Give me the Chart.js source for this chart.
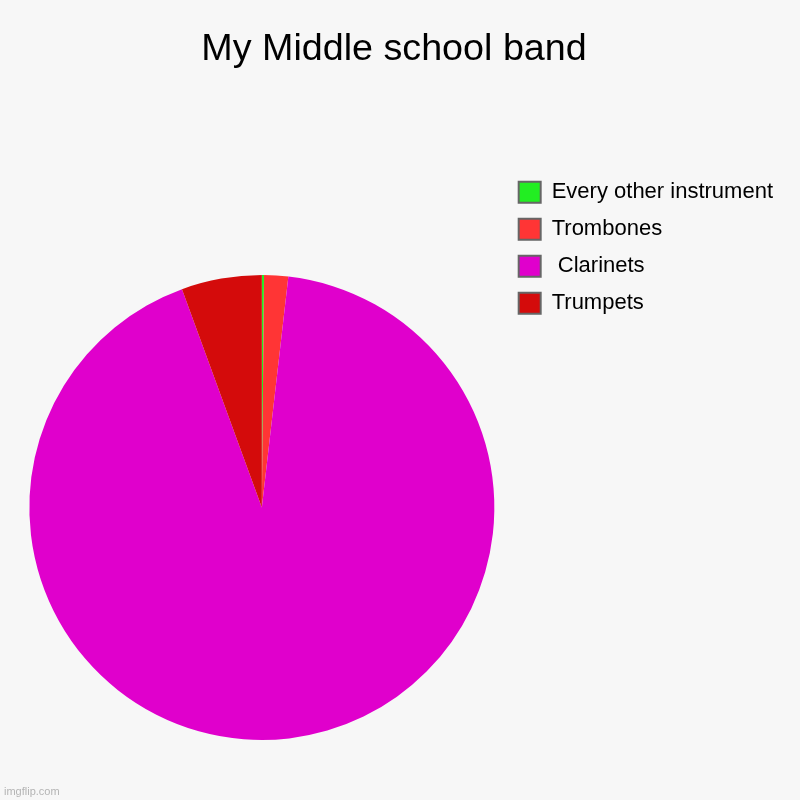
<!DOCTYPE html>
<html>
<head>
<meta charset="utf-8">
<script src="https://cdn.jsdelivr.net/npm/chart.js@4/dist/chart.umd.min.js"></script>
<style>
  html, body { margin: 0; padding: 0; background: #f7f7f7; }
  #wrap { width: 800px; height: 800px; position: relative; background: #f7f7f7; }
</style>
</head>
<body>
<div id="wrap"><canvas id="c" width="800" height="800"></canvas></div>
<script>
const chartTitle = "My Middle school band";
const categories = ["Every other instrument", "Trombones", " Clarinets", "Trumpets"];
const values = [0.15, 1.67, 92.6, 5.58];
const sliceColors = ["#22ee22", "#ff3535", "#e000cc", "#d40b0b"];
const watermark = "imgflip.com";

const FONT = "Arial, 'Liberation Sans', Helvetica, sans-serif";

const bgPlugin = {
  id: 'bg',
  beforeDraw(chart) {
    const ctx = chart.ctx;
    ctx.save();
    ctx.fillStyle = '#f7f7f7';
    ctx.fillRect(0, 0, chart.width, chart.height);
    ctx.restore();
  },
  afterDraw(chart) {
    const ctx = chart.ctx;
    ctx.save();
    ctx.fillStyle = '#b4b4b4';
    ctx.font = "11px " + FONT;
    ctx.textBaseline = 'alphabetic';
    ctx.textAlign = 'left';
    ctx.fillText(watermark, 4, 795);
    ctx.restore();
  }
};

new Chart(document.getElementById('c'), {
  type: 'pie',
  data: {
    labels: categories,
    datasets: [{
      data: values,
      backgroundColor: sliceColors,
      borderWidth: 0,
      radius: 232.5
    }]
  },
  options: {
    responsive: false,
    animation: false,
    devicePixelRatio: 1,
    layout: { padding: { left: 5, right: 17, top: 0, bottom: 0 } },
    plugins: {
      title: {
        display: true,
        text: chartTitle,
        color: '#000',
        font: { family: FONT, size: 37.7, weight: 'normal' },
        padding: { top: 27, bottom: 142.76 }
      },
      subtitle: {
        display: true,
        text: ' ',
        position: 'left',
        font: { size: 1 },
        padding: { top: 13.8, bottom: 0 }
      },
      legend: {
        position: 'right',
        align: 'start',
        maxWidth: 320,
        title: {
          display: true,
          text: ' ',
          font: { size: 1 },
          padding: { top: 165, bottom: 0 }
        },
        labels: {
          color: '#000',
          font: { family: FONT, size: 22 },
          boxWidth: 22,
          boxHeight: 21,
          padding: 15,
          generateLabels(chart) {
            const ds = chart.data.datasets[0];
            return chart.data.labels.map((l, i) => ({
              text: l,
              fillStyle: ds.backgroundColor[i],
              strokeStyle: '#666666',
              fontColor: '#000000',
              lineWidth: 2,
              hidden: false,
              index: i
            }));
          }
        }
      },
      tooltip: { enabled: false }
    }
  },
  plugins: [bgPlugin]
});
</script>
</body>
</html>
